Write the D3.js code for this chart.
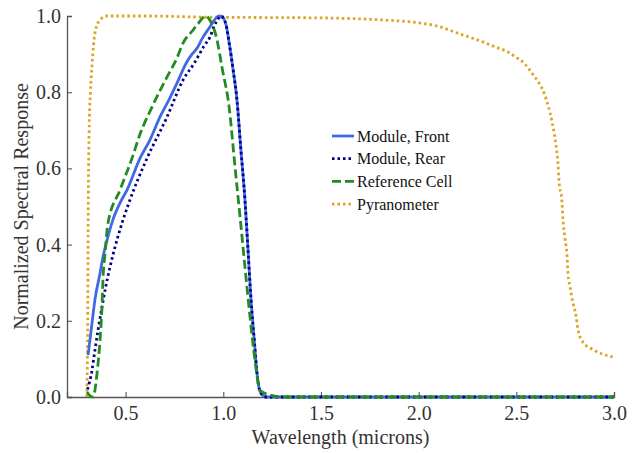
<!DOCTYPE html>
<html>
<head>
<meta charset="utf-8">
<script src="https://cdn.jsdelivr.net/npm/d3@7"></script>
<style>
  body { margin: 0; background: #fff; }
  svg { display: block; }
</style>
</head>
<body>
<svg id="canvas" width="637" height="453"></svg>
<script>
// wavelength (microns) / normalized response
let frontWl = [0.308, 0.328, 0.343, 0.369, 0.384, 0.405, 0.435, 0.471, 0.507, 0.574, 0.625, 0.676, 0.727, 0.763, 0.814, 0.84, 0.865, 0.891, 0.932, 0.955, 0.98, 1.0, 1.015, 1.03, 1.05, 1.07, 1.09, 1.111, 1.125, 1.142, 1.16, 1.172, 1.185, 1.2, 1.22, 3.0]
let frontVal = [0.11, 0.194, 0.255, 0.325, 0.367, 0.412, 0.465, 0.509, 0.543, 0.627, 0.675, 0.735, 0.785, 0.824, 0.88, 0.90, 0.915, 0.94, 0.972, 0.99, 1.0, 0.995, 0.975, 0.93, 0.86, 0.78, 0.65, 0.517, 0.40, 0.255, 0.14, 0.065, 0.02, 0.005, 0, 0]

let rearWl = [0.305, 0.328, 0.343, 0.359, 0.379, 0.395, 0.42, 0.446, 0.482, 0.522, 0.61, 0.712, 0.794, 0.85, 0.90, 0.932, 0.955, 0.975, 0.99, 1.0, 1.015, 1.03, 1.05, 1.07, 1.09, 1.111, 1.125, 1.142, 1.16, 1.172, 1.185, 1.2, 1.22, 3.0]
let rearVal = [0.02, 0.07, 0.123, 0.176, 0.236, 0.281, 0.341, 0.394, 0.457, 0.517, 0.627, 0.735, 0.832, 0.875, 0.92, 0.945, 0.975, 0.993, 1.0, 0.995, 0.975, 0.93, 0.86, 0.78, 0.65, 0.517, 0.40, 0.255, 0.14, 0.065, 0.02, 0.005, 0, 0]

let refWl = [0.302, 0.318, 0.333, 0.354, 0.369, 0.379, 0.384, 0.395, 0.41, 0.471, 0.533, 0.574, 0.635, 0.712, 0.763, 0.794, 0.84, 0.871, 0.91, 0.93, 0.968, 0.993, 1.03, 1.06, 1.086, 1.111, 1.137, 1.162, 1.188, 1.24, 1.3, 3.0]
let refVal = [0.013, 0.003, 0.0, 0.063, 0.15, 0.236, 0.307, 0.378, 0.457, 0.543, 0.627, 0.69, 0.761, 0.84, 0.89, 0.929, 0.96, 0.98, 1.0, 0.99, 0.937, 0.866, 0.76, 0.604, 0.472, 0.341, 0.21, 0.097, 0.018, 0.005, 0, 0]

let pyrWl = [0.30, 0.303, 0.306, 0.308, 0.313, 0.32, 0.328, 0.343, 0.369, 0.405, 0.6, 0.9, 1.2, 1.5, 1.8, 2.0, 2.1, 2.2, 2.329, 2.391, 2.447, 2.498, 2.544, 2.58, 2.616, 2.642, 2.662, 2.683, 2.703, 2.713, 2.718, 2.734, 2.739, 2.749, 2.76, 2.764, 2.775, 2.79, 2.805, 2.816, 2.841, 2.887, 2.939, 2.995]
let pyrVal = [0.0, 0.05, 0.2, 0.43, 0.69, 0.8, 0.87, 0.955, 0.99, 1.0, 1.0, 0.997, 0.996, 0.995, 0.99, 0.982, 0.973, 0.955, 0.932, 0.919, 0.908, 0.892, 0.874, 0.85, 0.824, 0.798, 0.766, 0.722, 0.661, 0.614, 0.57, 0.509, 0.465, 0.417, 0.367, 0.325, 0.289, 0.247, 0.215, 0.176, 0.144, 0.126, 0.113, 0.105]

let xTicks = [0.5, 1.0, 1.5, 2.0, 2.5, 3.0]
let yTicks = [0.0, 0.2, 0.4, 0.6, 0.8, 1.0]

let seriesNames = ['Module, Front', 'Module, Rear', 'Reference Cell', 'Pyranometer']
let seriesColors = ['#4169e1', '#00008b', '#228b22', '#daa520']
let seriesDash = [null, '2.5,3', '9,4', '2.5,3']

let serif = 'Liberation Serif, Times New Roman, Times, Nimbus Roman, FreeSerif, Noto Serif, DejaVu Serif, serif'

let canvas = d3.select('#canvas')

let x = d3.scaleLinear().domain([0.2, 3.0]).range([67, 614])
let y = d3.scaleLinear().domain([0, 1]).range([397, 16])

let series = [
    {wl: frontWl, val: frontVal},
    {wl: rearWl, val: rearVal},
    {wl: refWl, val: refVal},
    {wl: pyrWl, val: pyrVal}
]

let line = d3.line()
    .x(d => x(d[0]))
    .y(d => y(d[1]))
    .curve(d3.curveMonotoneX)

// axes (inward ticks, no box)
canvas.append('g')
    .attr('transform', `translate(0,${y(0)})`)
    .call(d3.axisBottom(x).tickValues(xTicks).tickFormat(d3.format('.1f')).tickSize(-5).tickPadding(9))
canvas.append('g')
    .attr('transform', `translate(${x(0.2)},0)`)
    .call(d3.axisLeft(y).tickValues(yTicks).tickFormat(d3.format('.1f')).tickSize(-5).tickPadding(6))

canvas.selectAll('g').attr('font-family', serif)
canvas.selectAll('.domain').attr('stroke', '#555').attr('stroke-width', 1.3)
canvas.selectAll('.tick line').attr('stroke', '#555').attr('stroke-width', 1.1)
canvas.selectAll('.tick text')
    .style('font-family', serif)
    .attr('font-size', 20)
    .attr('fill', '#333')

// draw order: pyranometer, front, rear, reference
let order = [3, 0, 1, 2]
order.forEach(i => {
    let s = series[i]
    canvas.append('path')
        .datum(d3.zip(s.wl, s.val))
        .attr('fill', 'none')
        .attr('stroke', seriesColors[i])
        .attr('stroke-width', 2.8)
        .attr('stroke-dasharray', seriesDash[i])
        .attr('d', line)
})

// labels
canvas.append('text')
    .attr('x', (x(0.2) + x(3.0)) / 2)
    .attr('y', 444)
    .attr('text-anchor', 'middle')
    .style('font-family', serif)
    .attr('font-size', 20)
    .attr('fill', '#333')
    .text('Wavelength (microns)')

canvas.append('text')
    .attr('transform', `translate(28,${(y(0) + y(1)) / 2}) rotate(-90)`)
    .attr('text-anchor', 'middle')
    .style('font-family', serif)
    .attr('font-size', 20)
    .attr('fill', '#333')
    .text('Normalized Spectral Response')

// legend
let legend = canvas.append('g').attr('transform', 'translate(332,136)')
seriesNames.forEach((name, i) => {
    let row = legend.append('g').attr('transform', `translate(0,${i * 22.7})`)
    row.append('line')
        .attr('x1', 0).attr('x2', 22)
        .attr('stroke', seriesColors[i])
        .attr('stroke-width', 2.8)
        .attr('stroke-dasharray', seriesDash[i])
    row.append('text')
        .attr('x', 25)
        .attr('dy', '0.35em')
        .style('font-family', serif)
        .attr('font-size', 16)
        .attr('fill', '#111')
        .text(name)
})
</script>
</body>
</html>
